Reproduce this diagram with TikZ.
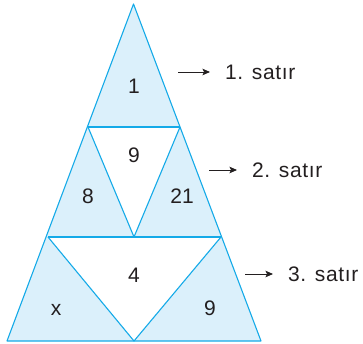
\documentclass[tikz,border=0pt]{standalone}
\usepackage{fontspec}
\setmainfont{Liberation Sans}
\usetikzlibrary{arrows.meta}

\definecolor{lineblue}{RGB}{20,170,232}
\definecolor{cellblue}{RGB}{219,240,251}
\definecolor{textgray}{RGB}{35,31,32}

\begin{document}
\begin{tikzpicture}[>={Stealth[length=7.5pt,width=6.5pt,inset=1.5pt]}, x=1pt, y=-1pt,
    edge/.style={draw=lineblue, line width=1.1pt, line join=round},
    num/.style={font=\fontsize{21}{25}\selectfont, text=textgray},
    rowlabel/.style={font=\fontsize{21}{25}\selectfont\addfontfeature{LetterSpace=3}, text=textgray, anchor=west, inner sep=0pt},
    rowarrow/.style={->, line width=0.9pt, textgray, shorten >=15pt}]
  \useasboundingbox (0,0) rectangle (363,344);

  % corners of the big triangle and of the rows
  \coordinate (top) at (133.5,4);
  \coordinate (l1) at (88,127);  \coordinate (r1) at (180,127);
  \coordinate (l2) at (48,237);  \coordinate (m2) at (134,237); \coordinate (r2) at (221,237);
  \coordinate (l3) at (7,341);   \coordinate (m3) at (134,341); \coordinate (r3) at (261,341);

  % shaded cells, then the two white ones
  \fill[cellblue] (top) -- (l3) -- (r3) -- cycle;
  \fill[white] (l1) -- (r1) -- (m2) -- cycle;
  \fill[white] (l2) -- (r2) -- (m3) -- cycle;

  % lines
  \draw[edge] (top) -- (l3) -- (r3) -- cycle;
  \draw[edge] (l1) -- (r1);
  \draw[edge] (l2) -- (r2);
  \draw[edge] (l1) -- (m2) -- (r1);
  \draw[edge] (l2) -- (m3) -- (r2);

  % numbers in the cells
  \node[num] (c1) at (134,86) {1};
  \node[num] (c2) at (134,155) {9};
  \node[num] (c3) at (88,196) {8};
  \node[num] (c4) at (182,196) {21};
  \node[num] (c5) at (134,275) {4};
  \node[num] (c6) at (56,310) {x};
  \node[num] (c7) at (210,308) {9};

  % row names
  \node[rowlabel] (s1) at (225,72) {1. satır};
  \node[rowlabel] (s2) at (252,170) {2. satır};
  \node[rowlabel] (s3) at (288,274) {3. satır};
  \coordinate (a1) at (178,72);
  \coordinate (a2) at (209,170);
  \coordinate (a3) at (245,274);
  \draw[rowarrow] (a1) -- (s1.west);
  \draw[rowarrow] (a2) -- (s2.west);
  \draw[rowarrow] (a3) -- (s3.west);
\end{tikzpicture}
\end{document}
